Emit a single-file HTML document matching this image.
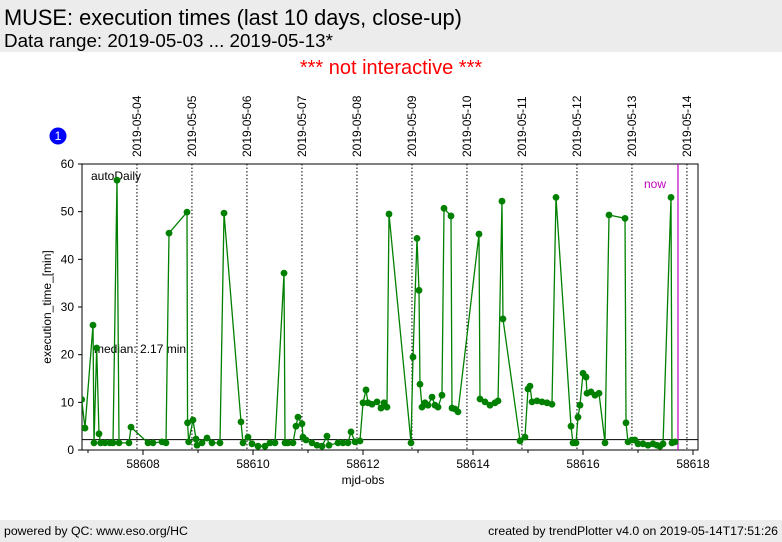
<!DOCTYPE html>
<html><head><meta charset="utf-8"><style>
body{margin:0;width:782px;height:542px;background:#fff;font-family:"Liberation Sans","DejaVu Sans",sans-serif;overflow:hidden;position:relative}
.hdr{position:absolute;left:0;top:0;width:782px;height:52px;background:#ececec}
.ftr{position:absolute;left:0;top:520px;width:782px;height:22px;background:#ececec;font-size:12px}
</style></head><body>
<div class="hdr">
<div style="position:absolute;left:4px;top:6px;font-size:21.8px;line-height:24px">MUSE: execution times (last 10 days, close-up)</div>
<div style="position:absolute;left:4px;top:31px;font-size:18.8px;line-height:20px">Data range: 2019-05-03 ... 2019-05-13*</div>
</div>
<div style="position:absolute;left:0;width:782px;top:57px;line-height:22px;text-align:center;color:#f00;font-size:20px">*** not interactive ***</div>
<svg id="ch" width="782" height="542" style="position:absolute;left:0;top:0" font-family="Liberation Sans, DejaVu Sans, sans-serif"></svg>
<div class="ftr">
<span style="position:absolute;left:4px;top:4px;font-size:12.3px">powered by QC: www.eso.org/HC</span>
<span style="position:absolute;right:4px;top:4px;font-size:12.3px">created by trendPlotter v4.0 on 2019-05-14T17:51:26</span>
</div>
<script>
const mjd=[58606.885,58606.945,58607.091,58607.109,58607.158,58607.2,58607.231,58607.309,58607.4,58607.455,58607.527,58607.564,58607.745,58607.782,58608.091,58608.182,58608.345,58608.418,58608.473,58608.8,58608.81,58608.83,58608.909,58608.964,58608.982,58609.073,58609.164,58609.255,58609.4,58609.473,58609.782,58609.818,58609.909,58609.982,58610.091,58610.218,58610.309,58610.4,58610.564,58610.582,58610.636,58610.727,58610.782,58610.818,58610.891,58610.909,58610.964,58611.073,58611.164,58611.255,58611.345,58611.382,58611.545,58611.636,58611.727,58611.782,58611.855,58611.945,58612.0,58612.055,58612.091,58612.164,58612.255,58612.327,58612.382,58612.436,58612.473,58612.873,58612.909,58612.982,58613.018,58613.036,58613.073,58613.127,58613.182,58613.255,58613.309,58613.364,58613.436,58613.473,58613.6,58613.618,58613.673,58613.727,58614.109,58614.127,58614.218,58614.309,58614.4,58614.455,58614.527,58614.545,58614.855,58614.945,58615.0,58615.036,58615.073,58615.164,58615.255,58615.345,58615.436,58615.509,58615.782,58615.818,58615.873,58615.909,58615.945,58616.0,58616.055,58616.073,58616.145,58616.218,58616.291,58616.4,58616.473,58616.764,58616.782,58616.818,58616.891,58616.945,58617.0,58617.091,58617.182,58617.273,58617.345,58617.4,58617.455,58617.6,58617.618,58617.673];
const execTime=[10.6,4.6,26.2,1.5,21.4,3.4,1.5,1.5,1.5,1.5,56.6,1.5,1.5,4.8,1.5,1.5,1.7,1.5,45.5,49.9,5.7,1.7,6.3,2.3,1.0,1.5,2.5,1.5,1.5,49.7,5.9,1.5,2.7,1.3,0.8,0.8,1.5,1.5,37.1,1.5,1.5,1.5,5.0,6.9,5.5,2.7,2.1,1.5,1.0,0.8,2.9,1.0,1.5,1.5,1.5,3.8,1.7,1.9,9.9,12.6,9.9,9.6,10.1,8.8,9.9,9.0,49.5,1.5,19.5,44.4,33.5,13.8,9.0,9.9,9.4,11.1,9.4,9.0,11.5,50.7,49.1,8.8,8.6,8.0,45.3,10.7,10.1,9.4,9.9,10.3,52.2,27.5,1.9,2.7,12.8,13.4,10.1,10.3,10.1,9.9,9.6,53.0,5.0,1.5,1.5,6.9,9.4,16.1,15.3,11.9,12.2,11.5,11.9,1.5,49.3,48.6,5.7,1.7,2.1,2.1,1.3,1.3,1.0,1.3,1.0,0.8,1.3,53.0,1.5,1.7];
const yTicks=[0,10,20,30,40,50,60];
const xTickLabels=[58608,58610,58612,58614,58616,58618];
const dateLabels=["2019-05-04","2019-05-05","2019-05-06","2019-05-07","2019-05-08","2019-05-09","2019-05-10","2019-05-11","2019-05-12","2019-05-13","2019-05-14"];
const dateStart=58607.89;
const median=2.17;
const nowMjd=58617.727;
const X0=82,X1=698,Y0=164,Y1=450;
const sx=m=>143+(m-58608)*55;
const sy=v=>Y1-v*(Y1-Y0)/60;
const svg=document.getElementById('ch');
const NS='http://www.w3.org/2000/svg';
function mk(t,a,txt){const e=document.createElementNS(NS,t);for(const k in a)e.setAttribute(k,a[k]);if(txt!=null)e.textContent=txt;svg.appendChild(e);return e;}
let e;
const defs=mk('defs',{});
const cp=document.createElementNS(NS,'clipPath');cp.setAttribute('id','clip');
const cr=document.createElementNS(NS,'rect');cr.setAttribute('x',X0);cr.setAttribute('y',Y0);cr.setAttribute('width',X1-X0);cr.setAttribute('height',Y1-Y0);
cp.appendChild(cr);defs.appendChild(cp);
e=mk('rect',{x:X0,y:Y0,width:X1-X0,height:Y1-Y0,fill:'#fff',stroke:'#000','stroke-width':1});


dateLabels.forEach((d,i)=>{const x=sx(dateStart+i);
e=mk('line',{x1:x,x2:x,y1:Y0,y2:Y1,stroke:'#000','stroke-width':1,'stroke-dasharray':'1.5,2'});


e=mk('text',{x:0,y:0,'font-size':12,'text-anchor':'start',transform:`translate(${x+4},157) rotate(-90)`},d);


});
for(let m=58607;m<=58618;m++){const x=sx(m);
e=mk('line',{x1:x,x2:x,y1:Y1,y2:Y1+(m%2===0?5:3),stroke:'#000'});

}
xTickLabels.forEach(m=>{e=mk('text',{x:sx(m),y:468,'font-size':12,'text-anchor':'middle'},m);

});
yTicks.forEach(v=>{const y=sy(v);
e=mk('line',{x1:X0-4,x2:X0,y1:y,y2:y,stroke:'#000'});


e=mk('text',{x:X0-8,y:y+4,'font-size':12,'text-anchor':'end'},v);

});
e=mk('line',{x1:X0,x2:X1,y1:sy(median),y2:sy(median),stroke:'#000','stroke-width':1});


e=mk('text',{x:94,y:353,'font-size':12},'median: 2.17 min');


e=mk('line',{x1:sx(nowMjd),x2:sx(nowMjd),y1:Y0,y2:Y1,stroke:'#c000c0','stroke-width':1.2});


e=mk('text',{x:sx(nowMjd)-12,y:188,'font-size':12,fill:'#c000c0','text-anchor':'end'},'now');


e=mk('text',{x:91,y:180,'font-size':12},'autoDaily');


e=mk('polyline',{points:mjd.map((m,i)=>sx(m)+','+sy(execTime[i])).join(' '),fill:'none',stroke:'#008000','stroke-width':1.3,'clip-path':'url(#clip)'});


mjd.forEach((m,i)=>{e=mk('circle',{cx:sx(m),cy:sy(execTime[i]),r:3.4,fill:'#008000','clip-path':'url(#clip)'});

});
e=mk('text',{x:0,y:0,'font-size':12,'text-anchor':'middle',transform:'translate(51,307) rotate(-90)'},'execution_time_[min]');


e=mk('text',{x:363,y:484,'font-size':12,'text-anchor':'middle'},'mjd-obs');


e=mk('circle',{cx:58,cy:136,r:8.5,fill:'#0000ff'});


e=mk('text',{x:58,y:140,'font-size':12,fill:'#fff','text-anchor':'middle'},'1');


</script>
</body></html>
